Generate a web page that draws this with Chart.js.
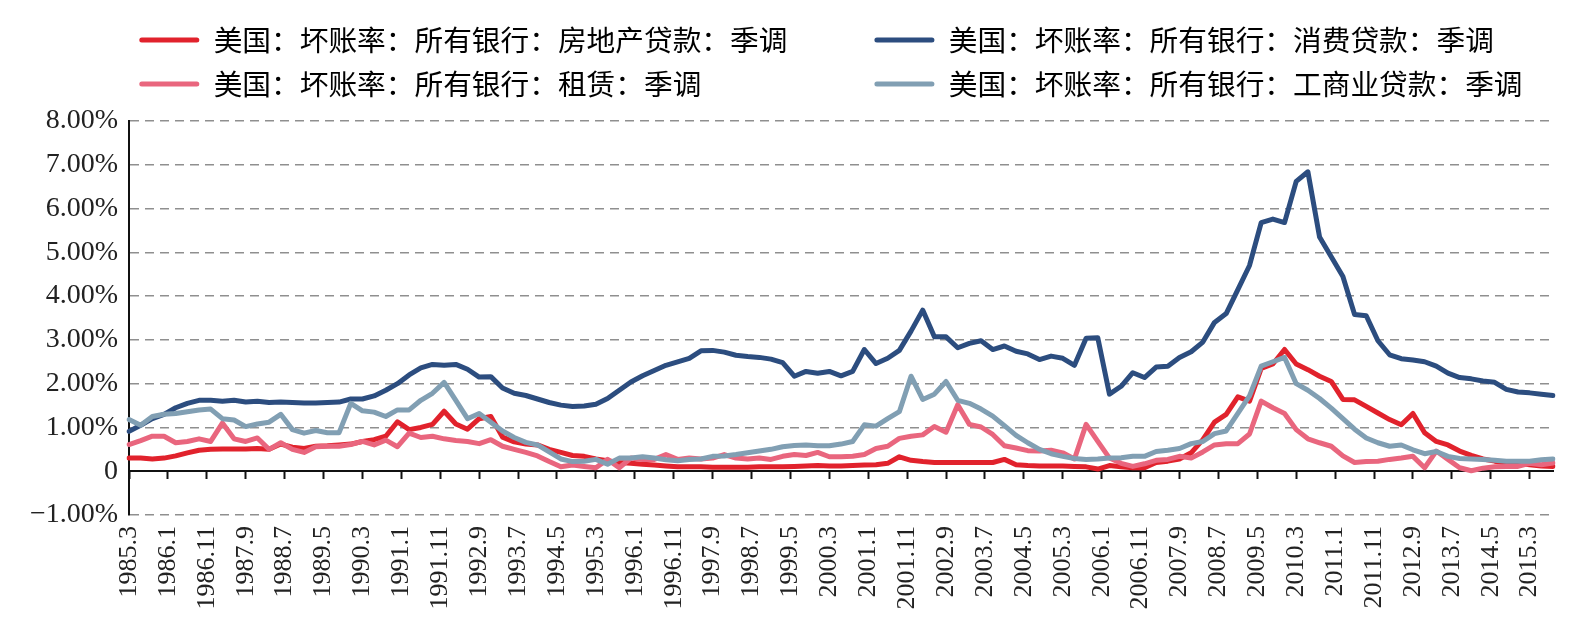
<!DOCTYPE html>
<html>
<head>
<meta charset="utf-8">
<script src="https://cdn.jsdelivr.net/npm/chart.js@4.4.1/dist/chart.umd.min.js"></script>
<style>
  html, body { margin: 0; padding: 0; background: #ffffff; }
  #wrap { width: 1586px; height: 639px; position: relative; }
</style>
</head>
<body>
<div id="wrap"><canvas id="c"></canvas></div>
<script>
// ---- categories: monthly axis 1985.3 .. 2015.9, data is quarterly (every 3rd month)
const startYear = 1985, startMonth = 3, monthCount = 367;
const months = [];
for (let i = 0; i < monthCount; i++) {
  const m = startMonth - 1 + i;
  months.push((startYear + Math.floor(m / 12)) + '.' + (m % 12 + 1));
}
const tickEvery = 10; // a tick label every 10 months

// ---- series names
const names = {
  realEstate: '美国：坏账率：所有银行：房地产贷款：季调',
  consumer:   '美国：坏账率：所有银行：消费贷款：季调',
  lease:      '美国：坏账率：所有银行：租赁：季调',
  commercial: '美国：坏账率：所有银行：工商业贷款：季调'
};

// ---- quarterly values (%), 1985.3 .. 2015.9
const realEstate = [
  0.30,0.30,0.28,0.30,0.35,0.42,0.48,0.50,0.51,0.51,0.51,0.52,0.50,0.62,0.55,0.52,0.57,0.58,0.60,0.62,0.68,0.72,0.80,1.13,0.95,
  1.00,1.07,1.37,1.08,0.96,1.20,1.25,0.78,0.67,0.62,0.60,0.50,0.43,0.36,0.34,0.28,0.24,0.20,0.18,0.16,0.14,0.12,0.10,0.10,0.10,0.09,0.09,0.09,0.09,0.10,0.10,0.10,0.11,0.12,0.13,
  0.12,0.12,0.13,0.14,0.15,0.18,0.33,0.25,0.22,0.20,0.20,0.20,0.20,0.20,0.20,0.27,0.15,0.13,0.12,0.12,0.12,0.11,0.10,0.05,0.13,0.10,0.08,0.08,0.20,0.23,0.28,0.42,0.72,1.12,
  1.30,1.70,1.60,2.35,2.45,2.78,2.45,2.32,2.17,2.05,1.64,1.63,1.48,1.33,1.18,1.06,1.32,0.88,0.68,0.60,0.46,0.36,0.28,0.23,0.19,0.18,0.15,0.12,0.11
];
const consumer = [
  0.91,1.05,1.20,1.30,1.45,1.55,1.62,1.62,1.60,1.62,1.58,1.60,1.57,1.58,1.57,1.56,1.56,1.57,1.58,1.65,1.65,1.72,1.85,2.00,2.20,
  2.36,2.44,2.42,2.44,2.33,2.15,2.16,1.90,1.78,1.73,1.65,1.57,1.51,1.48,1.49,1.53,1.66,1.85,2.04,2.18,2.30,2.42,2.50,2.58,2.75,2.76,2.72,2.65,2.62,2.60,2.56,2.48,2.17,2.28,2.24,
  2.28,2.18,2.28,2.78,2.46,2.58,2.76,3.20,3.68,3.07,3.07,2.82,2.92,2.98,2.78,2.86,2.74,2.68,2.55,2.63,2.58,2.42,3.04,3.05,1.76,1.94,2.25,2.14,2.38,2.40,2.60,2.73,2.95,3.40,
  3.60,4.15,4.70,5.68,5.76,5.68,6.62,6.84,5.35,4.90,4.45,3.58,3.55,2.98,2.66,2.57,2.54,2.50,2.40,2.24,2.14,2.11,2.06,2.03,1.87,1.81,1.79,1.76,1.73
];
const lease = [
  0.61,0.70,0.80,0.80,0.65,0.68,0.74,0.68,1.10,0.74,0.68,0.76,0.50,0.65,0.50,0.43,0.56,0.57,0.57,0.61,0.68,0.60,0.71,0.56,0.87,
  0.77,0.80,0.74,0.70,0.68,0.63,0.72,0.57,0.50,0.43,0.35,0.22,0.10,0.14,0.11,0.08,0.27,0.08,0.30,0.27,0.27,0.38,0.27,0.30,0.28,0.30,0.38,0.30,0.28,0.30,0.27,0.34,0.38,0.36,0.43,
  0.33,0.33,0.34,0.38,0.52,0.57,0.75,0.80,0.83,1.02,0.89,1.52,1.07,1.01,0.84,0.58,0.53,0.47,0.46,0.48,0.42,0.28,1.07,0.68,0.30,0.18,0.11,0.17,0.25,0.27,0.34,0.30,0.44,0.60,
  0.63,0.63,0.85,1.60,1.45,1.32,0.95,0.74,0.65,0.57,0.35,0.20,0.22,0.23,0.27,0.30,0.34,0.08,0.46,0.27,0.08,0.01,0.07,0.10,0.11,0.11,0.18,0.15,0.19
];
const commercial = [
  1.18,1.05,1.25,1.30,1.32,1.36,1.40,1.42,1.20,1.17,1.02,1.08,1.12,1.30,0.95,0.87,0.93,0.88,0.88,1.55,1.38,1.35,1.25,1.40,1.40,
  1.62,1.78,2.03,1.62,1.20,1.32,1.12,0.92,0.77,0.66,0.60,0.44,0.28,0.22,0.23,0.27,0.16,0.30,0.30,0.33,0.30,0.26,0.24,0.27,0.28,0.34,0.35,0.38,0.42,0.46,0.50,0.56,0.59,0.60,0.58,
  0.58,0.62,0.68,1.06,1.03,1.20,1.36,2.17,1.64,1.76,2.05,1.62,1.55,1.42,1.26,1.04,0.82,0.65,0.50,0.40,0.34,0.29,0.27,0.28,0.30,0.31,0.34,0.34,0.45,0.48,0.52,0.63,0.68,0.86,
  0.92,1.32,1.72,2.40,2.50,2.60,2.00,1.85,1.66,1.44,1.20,0.96,0.76,0.65,0.57,0.60,0.49,0.40,0.45,0.34,0.29,0.28,0.27,0.25,0.23,0.23,0.23,0.26,0.28
];

// ---- y axis ticks
const yMin = -1, yMax = 8, yStep = 1;

// ---- colours
const colors = {
  realEstate: '#e1222c',
  consumer:   '#2c4d7f',
  lease:      '#e9667e',
  commercial: '#819fb3'
};

// map quarterly values onto monthly categories
function toMonthly(q) {
  return months.map((_, i) => (i % 3 === 0 && q[i / 3] !== undefined) ? q[i / 3] : null);
}

// draw order: last legend series on top (as in the original)
const series = [
  { key: 'commercial', values: commercial },
  { key: 'lease',      values: lease },
  { key: 'consumer',   values: consumer },
  { key: 'realEstate', values: realEstate }
];
const legendOrder = ['realEstate', 'consumer', 'lease', 'commercial'];
// trailing spaces so that the second legend column lines up
const legendPad = { realEstate: '\u3000\u3000\u2002', consumer: '', lease: '\u3000\u3000\u3000\u3000\u3000\u2002', commercial: '' };

const datasets = series.map(s => ({
  label: names[s.key],
  key: s.key,
  data: toMonthly(s.values),
  borderColor: colors[s.key],
  backgroundColor: colors[s.key],
  borderWidth: 5,
  pointRadius: 0,
  pointHoverRadius: 0,
  spanGaps: true,
  tension: 0,
  borderJoinStyle: 'round',
  borderCapStyle: 'round',
  fill: false
}));

const keepEveryTenth = s => { s.ticks = s.ticks.filter(t => t.value % tickEvery === 0); };

// place the legend block where it sits in the original (rows are still laid out by Chart.js)
const legendOffset = {
  id: 'legendOffset',
  afterLayout(chart) { if (chart.legend) { chart.legend.left = 124; chart.legend.top = 10.35; } }
};

new Chart(document.getElementById('c'), {
  type: 'line',
  data: { labels: months, datasets },
  plugins: [legendOffset],
  options: {
    responsive: true,
    maintainAspectRatio: false,
    animation: false,
    events: [],
    layout: { padding: { top: 23, left: 0, right: 5, bottom: 0 } },
    plugins: {
      tooltip: { enabled: false },
      legend: {
        display: true,
        position: 'top',
        align: 'start',
        labels: {
          boxWidth: 60,
          boxHeight: 5,
          useBorderRadius: true,
          borderRadius: 2.5,
          padding: 15.3,
          color: '#1e1e1e',
          font: { family: '"Noto Sans CJK SC", sans-serif', size: 28.7 },
          generateLabels: chart => legendOrder.map(k => {
            const idx = chart.data.datasets.findIndex(d => d.key === k);
            return {
              text: names[k] + legendPad[k],
              fillStyle: colors[k],
              strokeStyle: colors[k],
              lineWidth: 0,
              hidden: false,
              datasetIndex: idx,
              borderRadius: 2.5
            };
          })
        }
      }
    },
    scales: {
      x: {
        type: 'category',
        axis: 'x',
        position: 'bottom',
        offset: false,
        grid: { display: false, drawTicks: false },
        border: { display: false },
        ticks: {
          autoSkip: false,
          minRotation: 90,
          maxRotation: 90,
          padding: 11,
          color: '#222',
          font: { family: '"Liberation Serif", serif', size: 26 }
        },
        afterBuildTicks: keepEveryTenth,
        afterFit: s => { s.height = 124; s.paddingRight = 33; }
      },
      x0: {
        type: 'category',
        axis: 'x',
        position: { y: 0 },
        offset: false,
        grid: { display: true, drawOnChartArea: false, drawTicks: true, tickLength: 7, tickWidth: 2, tickColor: '#111' },
        border: { display: true, color: '#111', width: 2 },
        ticks: { display: false },
        afterBuildTicks: keepEveryTenth
      },
      y: {
        type: 'linear',
        position: 'left',
        min: yMin,
        max: yMax,
        grid: {
          drawTicks: false,
          lineWidth: 1.5,
          color: ctx => (ctx.tick && ctx.tick.value === 0) ? 'rgba(0,0,0,0)' : '#8f8f8f'
        },
        border: { display: true, color: '#111', width: 2, dash: [9, 6] },
        ticks: {
          stepSize: yStep,
          padding: 11,
          color: '#222',
          font: { family: '"Liberation Serif", serif', size: 28 },
          callback: v => v === 0 ? '0' : (v < 0 ? '\u2212' : '') + Math.abs(v).toFixed(2) + '%'
        },
        afterFit: s => { s.width = 129; }
      }
    }
  }
});
</script>
</body>
</html>
